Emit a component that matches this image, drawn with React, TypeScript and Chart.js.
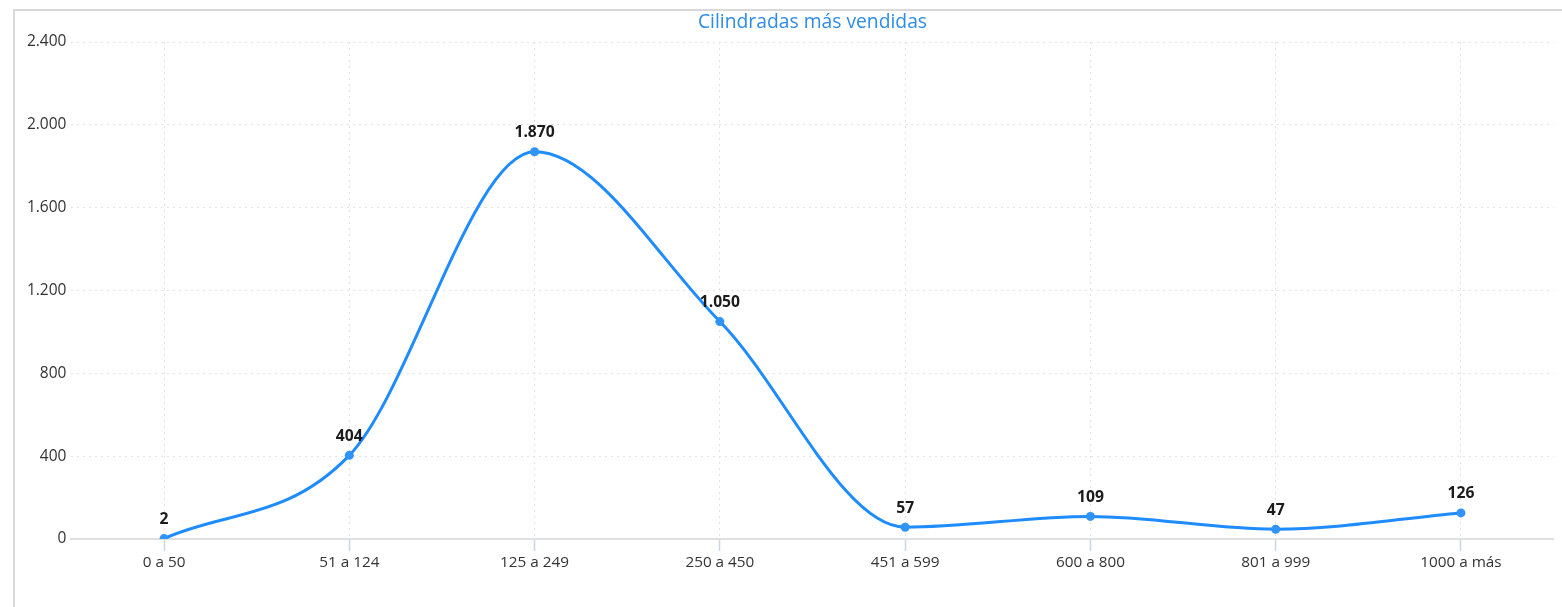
import React, { useEffect, useRef } from "react";
import { Chart, registerables } from "chart.js";

Chart.register(...registerables);

const categories = ["0 a 50", "51 a 124", "125 a 249", "250 a 450", "451 a 599", "600 a 800", "801 a 999", "1000 a más"];
const ventas = [2, 404, 1870, 1050, 57, 109, 47, 126];
const yTicks = [0, 400, 800, 1200, 1600, 2000, 2400];
const chartTitle = "Cilindradas más vendidas";

const FONT = "'Open Sans', 'Noto Sans', sans-serif";
const fmt = (n: number) => String(n).replace(/\B(?=(\d{3})+(?!\d))/g, ".");

const dataLabels = {
  id: "dataLabels",
  afterDatasetsDraw(chart: any) {
    const ctx = chart.ctx;
    const meta = chart.getDatasetMeta(0);
    ctx.save();
    ctx.font = `bold 15.7px ${FONT}`;
    ctx.fillStyle = "#1b1b1b";
    ctx.textAlign = "center";
    ctx.textBaseline = "middle";
    meta.data.forEach((pt: any, i: number) => {
      ctx.fillText(fmt(ventas[i]), pt.x, pt.y - 19);
    });
    ctx.restore();
  },
};

const areaTitle = {
  id: "areaTitle",
  afterDraw(chart: any) {
    const ctx = chart.ctx;
    const a = chart.chartArea;
    ctx.save();
    ctx.font = `19.3px ${FONT}`;
    ctx.fillStyle = "#2e8ce6";
    ctx.textAlign = "center";
    ctx.textBaseline = "middle";
    ctx.fillText(chartTitle, (a.left + a.right) / 2, 22.4);
    ctx.restore();
  },
};

export default function App() {
  const ref = useRef<HTMLCanvasElement>(null);
  useEffect(() => {
    if (!ref.current) return;
    const chart = new Chart(ref.current, {
      type: "line",
      data: {
        labels: categories,
        datasets: [
          {
            data: ventas,
            borderColor: "#1e8cff",
            backgroundColor: "#2f93f7",
            borderWidth: 3,
            cubicInterpolationMode: "monotone",
            pointRadius: 4.5,
            pointBorderWidth: 0,
            pointBackgroundColor: "#2f93f7",
            fill: false,
          },
        ],
      },
      plugins: [dataLabels, areaTitle],
      options: {
        responsive: false,
        animation: false,
        devicePixelRatio: 1,
        layout: { padding: { left: 0, right: 8.4, top: 42, bottom: 34 } },
        plugins: {
          legend: { display: false },
          tooltip: { enabled: false },
          title: { display: false },
        },
        scales: {
          x: {
            offset: true,
            grid: {
              display: true,
              color: "#e2e2e2",
              lineWidth: 1,
              drawTicks: true,
              tickLength: 12,
              tickColor: "#c9d6e3",
              tickWidth: 1.5,
              tickBorderDash: [],
              offset: false,
            },
            border: { display: true, color: "#e0e0e0", width: 2, dash: [2, 4] },
            ticks: {
              color: "#333333",
              padding: 2,
              font: { family: FONT, size: 15.3 },
              maxRotation: 0,
            },
            afterFit: (s: any) => {
              s.height = 34;
            },
          },
          y: {
            min: 0,
            max: 2400,
            afterBuildTicks: (s: any) => {
              s.ticks = yTicks.map((v) => ({ value: v }));
            },
            grid: {
              color: "#e2e2e2",
              lineWidth: 1,
              drawTicks: false,
            },
            border: { display: false, dash: [2, 4] },
            ticks: {
              color: "#333333",
              padding: 5,
              font: { family: FONT, size: 15.5 },
              callback: (v: any) => fmt(Number(v)),
            },
            afterFit: (s: any) => {
              s.width = 71.4;
            },
          },
        },
      } as any,
    });
    return () => chart.destroy();
  }, []);

  return (
    <div style={{ position: "fixed", left: 0, top: 0, width: 1562, height: 607, overflow: "hidden", background: "#fff" }}>
      <div
        style={{
          position: "absolute",
          left: 13,
          top: 9,
          width: 1700,
          height: 800,
          borderLeft: "2px solid #d9d9d9",
          borderTop: "2px solid #d9d9d9",
        }}
      />
      <canvas ref={ref} width={1562} height={607} style={{ position: "absolute", left: 0, top: 0 }} />
    </div>
  );
}
